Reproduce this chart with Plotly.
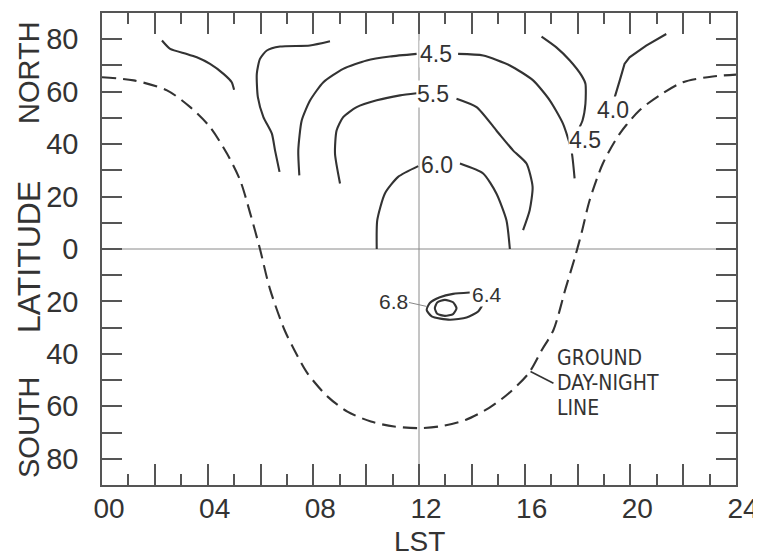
import plotly.graph_objects as go

# ---------------- data (LST hours, latitude degrees; south negative) ----------------
hour_ticks = [0, 2, 4, 6, 8, 10, 12, 14, 16, 18, 20, 22, 24]
hour_text = ["00", "", "04", "", "08", "", "12", "", "16", "", "20", "", "24"]
lat_ticks = [-80, -70, -60, -50, -40, -30, -20, -10, 0, 10, 20, 30, 40, 50, 60, 70, 80]
lat_text = ["80", "", "60", "", "40", "", "20", "", "0", "", "20", "", "40", "", "60", "", "80"]

# unlabeled contours
c_a_x = [2.27, 2.58, 3.21, 3.59, 4.09, 4.60, 4.91, 5.00]
c_a_y = [79.5, 76.3, 74.4, 73.1, 70.6, 66.8, 63.6, 60.7]
c_b_x = [8.63, 7.87, 6.74, 6.24, 5.98, 5.86, 5.90, 6.11, 6.43, 6.55, 6.72]
c_b_y = [79.2, 77.6, 77.2, 75.7, 72.5, 66.8, 57.9, 50.3, 44.0, 37.6, 29.4]
# 4.5 arch
c45_x = [7.47, 7.43, 7.56, 7.88, 8.38, 9.13, 10.02, 10.90, 11.91, None,
         13.48, 14.43, 15.44, 16.32, 16.95, 17.45, 17.77, 17.89]
c45_y = [28.1, 37.6, 49.0, 56.7, 63.6, 68.7, 71.9, 73.4, 74.4, None,
         74.4, 73.8, 70.0, 64.3, 56.7, 47.8, 37.6, 26.9]
# 5.5
c55_x = [9.01, 8.82, 8.88, 9.13, 9.64, 10.40, 11.28, 11.91, None,
         13.42, 14.18, 14.93, 15.56, 16.07, 16.30, 16.19, 15.94]
c55_y = [25.0, 36.4, 45.2, 50.3, 54.1, 56.7, 58.6, 59.4, None,
         57.3, 54.1, 45.2, 37.6, 32.6, 23.7, 14.8, 7.2]
# 6.0
c60_x = [10.40, 10.42, 10.71, 11.21, 11.97, None, 13.55, 14.43, 14.93, 15.31, 15.44]
c60_y = [0.0, 11.0, 21.2, 27.5, 31.6, None, 32.6, 28.8, 21.2, 11.0, 0.0]
# 4.5 (evening side)
c45e_x = [16.64, 17.20, 17.71, 18.15, 18.30, 18.30, 18.19, 18.08]
c45e_y = [81.0, 76.9, 71.9, 66.2, 63.0, 55.4, 49.0, 46.5]
# 4.0
c40_x = [21.36, 20.60, 19.97, 19.78, 19.60, 19.41]
c40_y = [82.0, 77.6, 73.1, 70.6, 64.3, 57.9]
# 6.4 (southern maximum, outer)
c64_x = [13.92, 13.29, 12.79, 12.41, 12.29, 12.48, 13.17, 13.80, 14.24, 14.43, 14.37]
c64_y = [-16.6, -17.1, -18.4, -20.6, -23.2, -25.7, -27.0, -26.1, -23.8, -20.6, -19.6]
# 6.8 (inner)
c68_x = [12.60, 12.69, 12.98, 13.29, 13.42, 13.29, 12.98, 12.69, 12.60]
c68_y = [-22.6, -20.4, -19.4, -20.3, -22.6, -24.8, -25.5, -24.7, -22.6]

# ground day-night line
dn_x = [0, 1.2, 2.46, 3.34, 4.09, 4.73, 5.23, 5.61, 5.98, 6.35, 6.91, 7.28, 7.78, 8.54,
        9.29, 10.18, 11.06, 12.0, 12.75, 13.76, 14.64, 15.40, 16.15, 16.65, 17.09, 17.55,
        17.91, 18.15, 18.46, 18.96, 19.60, 20.35, 21.11, 21.99, 23.12, 24]
dn_y = [65.5, 64.3, 60.5, 54.1, 46.5, 36.4, 26.2, 13.6, 0, -15, -30.9, -38.5, -47.4, -56.3,
        -62.0, -65.8, -67.7, -68.3, -67.7, -65.2, -60.7, -55.0, -47.4, -38.5, -30.9, -15,
        -2.9, 6.0, 18.6, 32.6, 44.0, 52.9, 58.6, 63.6, 65.8, 66.5]

# contour labels
lab_text = ["4.5", "5.5", "6.0", "4.5", "4.0", "6.8", "6.4"]
lab_x = [12.64, 12.53, 12.70, 18.30, 19.34, 11.05, 14.59]
lab_y = [74.4, 59.2, 31.9, 41.4, 52.9, -20.2, -17.5]
lead68_x = [11.62, 12.29]
lead68_y = [-20.4, -21.9]
pointer_x = [16.22, 17.09]
pointer_y = [-46.7, -51.2]
dn_label = ["GROUND", "DAY-NIGHT", "LINE"]
dn_label_x = 17.16
dn_label_y = [-41.5, -51.0, -60.8]

# ---------------- figure ----------------
INK = "#333333"
FONT = "Liberation Sans, Arial, sans-serif"
NARROW = "Liberation Sans Narrow, DejaVu Sans Condensed, Liberation Sans, sans-serif"

# the page body has an 8px margin, so the figure is sized to fill the rest of the window
FIG_W, FIG_H = 753, 550
M_L, M_R, M_T, M_B = 94, 25, 5, 73
PLOT_H = FIG_H - M_T - M_B

fig = go.Figure()

line_style = dict(color=INK, width=2.1, shape="spline", smoothing=0.6)
for xs, ys in [(c_a_x, c_a_y), (c_b_x, c_b_y), (c45_x, c45_y), (c55_x, c55_y),
               (c60_x, c60_y), (c45e_x, c45e_y), (c64_x, c64_y), (c68_x, c68_y)]:
    fig.add_trace(go.Scatter(x=xs, y=ys, mode="lines", line=line_style,
                             hoverinfo="skip", showlegend=False))
fig.add_trace(go.Scatter(x=c40_x, y=c40_y, mode="lines",
                         line=dict(color=INK, width=2.1),
                         hoverinfo="skip", showlegend=False))
fig.add_trace(go.Scatter(x=dn_x, y=dn_y, mode="lines",
                         line=dict(color=INK, width=2.1, dash="14px,7px", shape="spline", smoothing=0.8),
                         hoverinfo="skip", showlegend=False))
fig.add_trace(go.Scatter(x=lead68_x, y=lead68_y, mode="lines",
                         line=dict(color="#888888", width=1),
                         hoverinfo="skip", showlegend=False))
fig.add_trace(go.Scatter(x=pointer_x, y=pointer_y, mode="lines",
                         line=dict(color=INK, width=1.6),
                         hoverinfo="skip", showlegend=False))

# reference lines (noon meridian and equator)
fig.add_shape(type="line", x0=12, x1=12, y0=-90, y1=90, xref="x", yref="y",
              line=dict(color="#8a8a8a", width=1), layer="below")
fig.add_shape(type="line", x0=0, x1=24, y0=0, y1=0, xref="x", yref="y",
              line=dict(color="#8a8a8a", width=1), layer="below")

for t, x, y in zip(lab_text, lab_x, lab_y):
    size = 21 if t in ("6.8", "6.4") else 23
    fig.add_annotation(x=x, y=y, text=t, showarrow=False, xanchor="center", yanchor="middle",
                       font=dict(family=FONT, size=size, color=INK), bgcolor="white", borderpad=0)

for t, y in zip(dn_label, dn_label_y):
    fig.add_annotation(x=dn_label_x, y=y, text=t, showarrow=False, xanchor="left",
                       yanchor="middle", font=dict(family=NARROW, size=21, color=INK))

# axis words
fig.add_annotation(xref="paper", yref="paper", x=0.5, y=0, yshift=-56, text="LST",
                   showarrow=False, xanchor="center", yanchor="middle",
                   font=dict(family=FONT, size=28, color=INK))
for word, yc, sz in [("NORTH", 73, 29), ("LATITUDE", 257, 32), ("SOUTH", 427, 29)]:
    # yc: centre in page pixels (page offset 8px)
    fig.add_annotation(xref="paper", yref="paper", x=0, xshift=-73,
                       y=(M_T + PLOT_H - (yc - 8)) / PLOT_H, text=word, textangle=-90,
                       showarrow=False, xanchor="center", yanchor="middle",
                       font=dict(family=FONT, size=sz, color=INK))

axis_common = dict(showline=True, linecolor="#555555", linewidth=1.5, mirror="ticks",
                   ticks="inside", tickcolor="#555555", tickwidth=1.5, showgrid=False,
                   zeroline=False, automargin=False)

fig.update_xaxes(range=[0, 24], tickvals=hour_ticks, ticktext=hour_text, ticklen=21,
                 ticklabelstandoff=-2, ticklabelshift=7,
                 tickfont=dict(family=FONT, size=28, color=INK),
                 minor=dict(tickvals=list(range(1, 24, 2)), ticklen=11, ticks="inside",
                            tickcolor="#555555", tickwidth=1.5),
                 **axis_common)
fig.update_yaxes(range=[-90, 90], tickvals=lat_ticks, ticktext=lat_text, ticklen=20,
                 ticklabelstandoff=16, tickfont=dict(family=FONT, size=29, color=INK),
                 **axis_common)

fig.update_layout(width=FIG_W, height=FIG_H, margin=dict(l=M_L, r=M_R, t=M_T, b=M_B),
                  paper_bgcolor="white", plot_bgcolor="white", showlegend=False)

fig.write_html("out.html")
